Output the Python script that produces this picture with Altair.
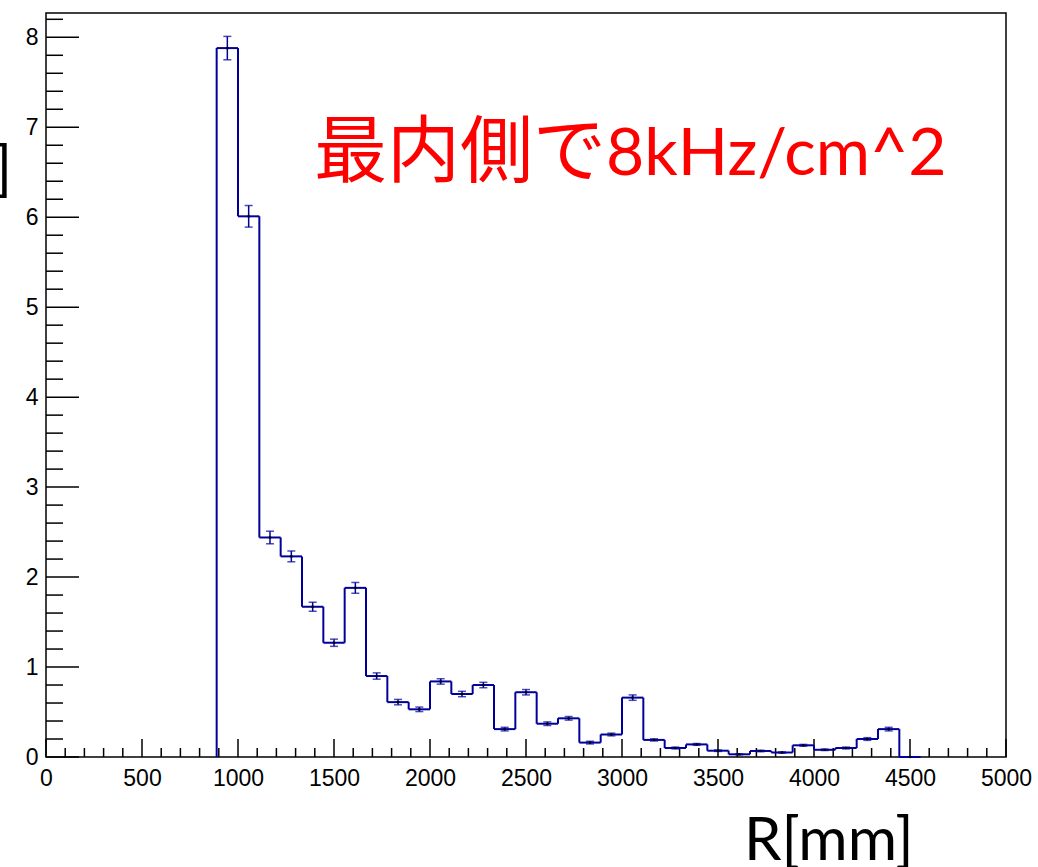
import altair as alt
import pandas as pd

# Histogram: 45 bins over 0-5000 mm, filled bins start at bin index 8
N_BINS = 45
X_MIN, X_MAX = 0, 5000
FIRST_BIN = 8
values = [7.88, 6.01, 2.44, 2.23, 1.67, 1.27, 1.88, 0.90, 0.61, 0.53, 0.84,
          0.70, 0.80, 0.31, 0.72, 0.37, 0.43, 0.16, 0.25, 0.66, 0.19, 0.10,
          0.14, 0.07, 0.03, 0.067, 0.05, 0.13, 0.08, 0.10, 0.20, 0.31, 0.0]
errors = [0.13, 0.12, 0.07, 0.06, 0.05, 0.04, 0.06, 0.035, 0.03, 0.025, 0.03,
          0.03, 0.03, 0.02, 0.03, 0.02, 0.02, 0.015, 0.015, 0.03, 0.012, 0.01,
          0.01, 0.008, 0.005, 0.008, 0.007, 0.01, 0.008, 0.01, 0.015, 0.02, 0.0]
Y_MAX = 8.27
x_major = [0, 500, 1000, 1500, 2000, 2500, 3000, 3500, 4000, 4500, 5000]
y_major = [0, 1, 2, 3, 4, 5, 6, 7, 8]
annotation_jp = "最内側で"
annotation_latin = "8kHz/cm^2"
x_title = "R[mm]"

W, H = 960, 744
LINE = "#00009a"

bw = (X_MAX - X_MIN) / N_BINS
rows = []
for i, (v, e) in enumerate(zip(values, errors)):
    lo = X_MIN + (FIRST_BIN + i) * bw
    rows.append({"lo": lo, "hi": lo + bw, "c": lo + bw / 2, "v": v,
                 "e": e, "top": v + e, "bot": v - e})
bins = pd.DataFrame(rows)

vrows = []
prev = 0.0
for r in rows:
    vrows.append({"edge": r["lo"], "y1": prev, "y2": r["v"]})
    prev = r["v"]
verts = pd.DataFrame(vrows)

x_minor = [x for x in range(0, 5001, 100) if x not in x_major]
y_minor = [round(k * 0.2, 1) for k in range(0, 42) if k % 5 != 0]

xs = alt.Scale(domain=[X_MIN, X_MAX], nice=False, zero=False)
ys = alt.Scale(domain=[0, Y_MAX], nice=False)
xax = alt.Axis(values=x_major, ticks=False, domain=False, grid=False, title=None,
               labelFont="Liberation Sans", labelFontSize=23, labelColor="black",
               labelPadding=10, format="d", labelFlush=False)
yax = alt.Axis(values=y_major, ticks=False, domain=False, grid=False, title=None,
               labelFont="Liberation Sans", labelFontSize=23, labelColor="black",
               labelPadding=8, format="d")

base = alt.Chart(bins)

horiz = base.mark_rule(color=LINE, strokeWidth=2).encode(
    x=alt.X("lo:Q", scale=xs, axis=xax), x2="hi:Q",
    y=alt.Y("v:Q", scale=ys, axis=yax))

vert = alt.Chart(verts).mark_rule(color=LINE, strokeWidth=2).encode(
    x=alt.X("edge:Q", scale=xs), y=alt.Y("y1:Q", scale=ys), y2="y2:Q")

ebar = base.mark_rule(color=LINE, strokeWidth=1.5).encode(
    x=alt.X("c:Q", scale=xs), y=alt.Y("bot:Q", scale=ys), y2="top:Q")
cap_top = base.mark_tick(color=LINE, orient="horizontal", size=8, thickness=1.5).encode(
    x=alt.X("c:Q", scale=xs), y=alt.Y("top:Q", scale=ys))
cap_bot = base.mark_tick(color=LINE, orient="horizontal", size=8, thickness=1.5).encode(
    x=alt.X("c:Q", scale=xs), y=alt.Y("bot:Q", scale=ys))
dots = base.mark_square(color="black", size=5, opacity=1).encode(
    x=alt.X("c:Q", scale=xs), y=alt.Y("v:Q", scale=ys))

xt_major = alt.Chart(pd.DataFrame({"t": x_major})).mark_rule(color="black", strokeWidth=1.5).encode(
    x=alt.X("t:Q", scale=xs), y=alt.value(H), y2=alt.value(H - 18))
xt_minor = alt.Chart(pd.DataFrame({"t": x_minor})).mark_rule(color="black", strokeWidth=1.5).encode(
    x=alt.X("t:Q", scale=xs), y=alt.value(H), y2=alt.value(H - 9))
yt_major = alt.Chart(pd.DataFrame({"t": y_major})).mark_rule(color="black", strokeWidth=1.5).encode(
    y=alt.Y("t:Q", scale=ys), x=alt.value(0), x2=alt.value(33))
yt_minor = alt.Chart(pd.DataFrame({"t": y_minor})).mark_rule(color="black", strokeWidth=1.5).encode(
    y=alt.Y("t:Q", scale=ys), x=alt.value(0), x2=alt.value(17))

red_jp = alt.Chart(pd.DataFrame({"s": [annotation_jp]})).mark_text(
    color="#ff0000", font="Noto Sans CJK JP", fontSize=73, align="left",
    baseline="alphabetic").encode(text="s:N", x=alt.value(268), y=alt.value(163))
red_lat = alt.Chart(pd.DataFrame({"s": [annotation_latin]})).mark_text(
    color="#ff0000", font="Lato", fontSize=66, align="left",
    baseline="alphabetic").encode(text="s:N", x=alt.value(560), y=alt.value(162))

xtitle = alt.Chart(pd.DataFrame({"s": [x_title]})).mark_text(
    color="black", font="Lato", fontSize=60, align="left",
    baseline="alphabetic").encode(text="s:N", x=alt.value(698), y=alt.value(847))

bracket = alt.Chart(pd.DataFrame({"s": ["]"]})).mark_text(
    color="black", font="Lato", fontSize=60, align="right",
    baseline="middle").encode(text="s:N", x=alt.value(-34), y=alt.value(158))

chart = alt.layer(
    xt_minor, xt_major, yt_minor, yt_major,
    horiz, vert, ebar, cap_top, cap_bot, dots, red_jp, red_lat, xtitle, bracket
).properties(
    width=W, height=H,
    padding={"left": 46, "top": 13, "right": 32, "bottom": 110},
    autosize=alt.AutoSizeParams(type="none"),
    background="white"
).configure_view(stroke="black", strokeWidth=1.5)

chart.save("out.html", embed_options={"renderer": "svg", "actions": False})
